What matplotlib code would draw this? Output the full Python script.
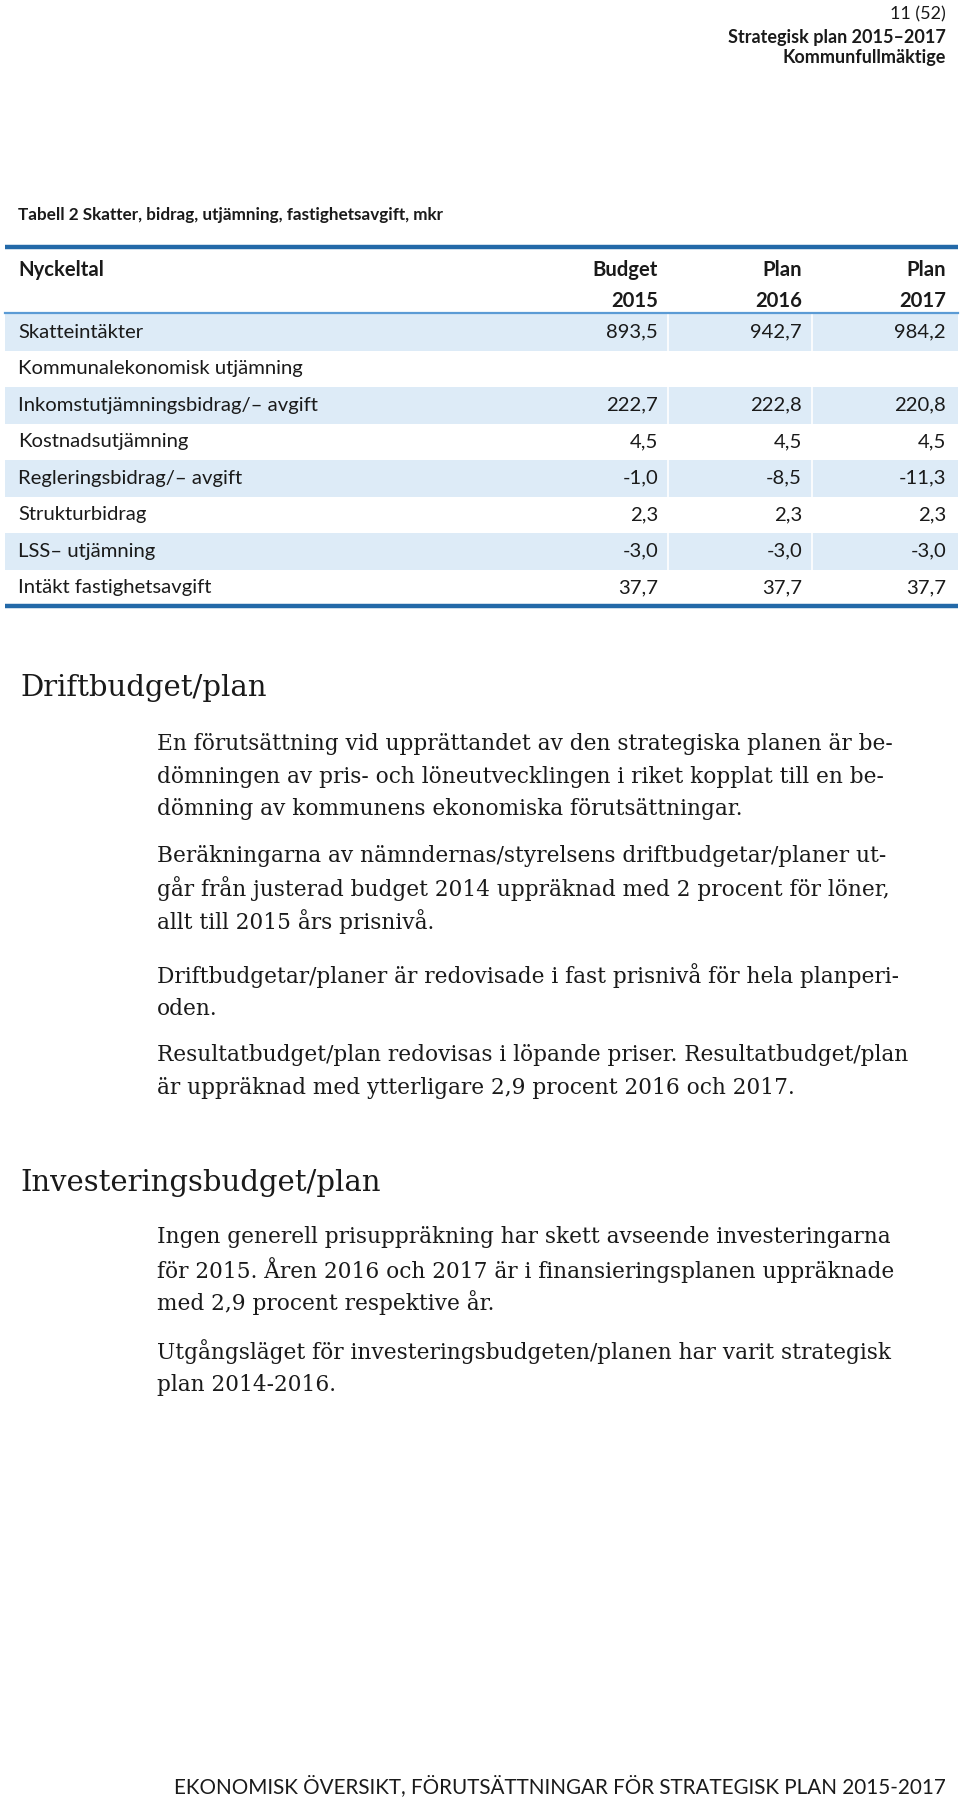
import matplotlib
matplotlib.use("Agg")
import matplotlib.pyplot as plt

# ---------------- data ----------------
page_header = ["11 (52)", "Strategisk plan 2015–2017", "Kommunfullmäktige"]
table_title = "Tabell 2 Skatter, bidrag, utjämning, fastighetsavgift, mkr"
col_header_top = ["Nyckeltal", "Budget", "Plan", "Plan"]
col_years = ["2015", "2016", "2017"]
row_labels = ["Skatteintäkter", "Kommunalekonomisk utjämning",
              "Inkomstutjämningsbidrag/– avgift", "Kostnadsutjämning",
              "Regleringsbidrag/– avgift", "Strukturbidrag",
              "LSS– utjämning", "Intäkt fastighetsavgift"]
budget_2015 = [893.5, None, 222.7, 4.5, -1.0, 2.3, -3.0, 37.7]
plan_2016 = [942.7, None, 222.8, 4.5, -8.5, 2.3, -3.0, 37.7]
plan_2017 = [984.2, None, 220.8, 4.5, -11.3, 2.3, -3.0, 37.7]

heading_drift = "Driftbudget/plan"
drift_paragraphs = [
    ["En förutsättning vid upprättandet av den strategiska planen är be-",
     "dömningen av pris- och löneutvecklingen i riket kopplat till en be-",
     "dömning av kommunens ekonomiska förutsättningar."],
    ["Beräkningarna av nämndernas/styrelsens driftbudgetar/planer ut-",
     "går från justerad budget 2014 uppräknad med 2 procent för löner,",
     "allt till 2015 års prisnivå."],
    ["Driftbudgetar/planer är redovisade i fast prisnivå för hela planperi-",
     "oden."],
    ["Resultatbudget/plan redovisas i löpande priser. Resultatbudget/plan",
     "är uppräknad med ytterligare 2,9 procent 2016 och 2017."],
]
heading_invest = "Investeringsbudget/plan"
invest_paragraphs = [
    ["Ingen generell prisuppräkning har skett avseende investeringarna",
     "för 2015. Åren 2016 och 2017 är i finansieringsplanen uppräknade",
     "med 2,9 procent respektive år."],
    ["Utgångsläget för investeringsbudgeten/planen har varit strategisk",
     "plan 2014-2016."],
]
footer = "EKONOMISK ÖVERSIKT, FÖRUTSÄTTNINGAR FÖR STRATEGISK PLAN 2015-2017"

# ---------------- layout ----------------
W, H = 960, 1797
SANS = ["Lato", "DejaVu Sans"]
SERIF = ["DejaVu Serif"]
BAND = "#DDEBF7"
LINE_DARK = "#2369A8"
LINE_LIGHT = "#5B9BD5"
TXT = "#1a1a1a"
TABLE_FS = 14.6

fig = plt.figure(figsize=(W / 100, H / 100), dpi=100)
ax = fig.add_axes([0, 0, 1, 1])
ax.set_xlim(0, W)
ax.set_ylim(H, 0)
ax.axis("off")

# page header
RIGHT = 946
for i, (t, y) in enumerate(zip(page_header, [14, 37, 58])):
    ax.text(RIGHT, y, t, ha="right", va="center", family=SANS, fontsize=13,
            fontweight="normal" if i == 0 else "bold", color=TXT)

# table
LEFT = 18
ax.text(LEFT, 215, table_title, ha="left", va="center", family=SANS,
        fontsize=12.3, fontweight="bold", color=TXT)
col_right = [658, 802, 946]
ax.plot([5, 958], [247, 247], color=LINE_DARK, lw=3.2, solid_capstyle="butt")
ax.text(LEFT, 270, col_header_top[0], ha="left", va="center", family=SANS,
        fontsize=TABLE_FS, fontweight="bold", color=TXT)
for x, t, yr in zip(col_right, col_header_top[1:], col_years):
    ax.text(x, 270, t, ha="right", va="center", family=SANS,
            fontsize=TABLE_FS, fontweight="bold", color=TXT)
    ax.text(x, 301, yr, ha="right", va="center", family=SANS,
            fontsize=TABLE_FS, fontweight="bold", color=TXT)

row_top = 314
pitch = 36.5
cols = [budget_2015, plan_2016, plan_2017]
for i, lab in enumerate(row_labels):
    y0 = row_top + i * pitch
    if i % 2 == 0:
        ax.axhspan(y0, y0 + pitch, xmin=5 / W, xmax=958 / W, color=BAND, lw=0)
        for xs in [668, 812]:
            ax.plot([xs, xs], [y0, y0 + pitch], color="white", lw=1.2)
    yc = y0 + pitch / 2
    ax.text(LEFT, yc, lab, ha="left", va="center", family=SANS,
            fontsize=TABLE_FS, color=TXT)
    for x, c in zip(col_right, cols):
        v = c[i]
        if v is not None:
            ax.text(x, yc, f"{v:.1f}".replace(".", ","), ha="right",
                    va="center", family=SANS, fontsize=TABLE_FS, color=TXT)
ax.plot([5, 958], [row_top - 1, row_top - 1], color=LINE_LIGHT, lw=1.6)
bottom = row_top + len(row_labels) * pitch
ax.plot([5, 958], [bottom, bottom], color=LINE_DARK, lw=3.2,
        solid_capstyle="butt")

# body sections
HEAD_X = 20
BODY_X = 157
LINE_PITCH = 32.7
BODY_FS = 15.6
HEAD_FS = 21

def section(heading, hy, paragraphs, starts):
    ax.text(HEAD_X, hy, heading, ha="left", va="center", family=SERIF,
            fontsize=HEAD_FS, color=TXT)
    for para, s in zip(paragraphs, starts):
        for k, line in enumerate(para):
            ax.text(BODY_X, s + k * LINE_PITCH, line, ha="left", va="center",
                    family=SERIF, fontsize=BODY_FS, color=TXT)

section(heading_drift, 688, drift_paragraphs, [744, 856, 976, 1055])
section(heading_invest, 1183, invest_paragraphs, [1237, 1352])

ax.text(RIGHT, 1786, footer, ha="right", va="center", family=SANS,
        fontsize=14.85, color=TXT)

fig.savefig("out.png", dpi=100)
